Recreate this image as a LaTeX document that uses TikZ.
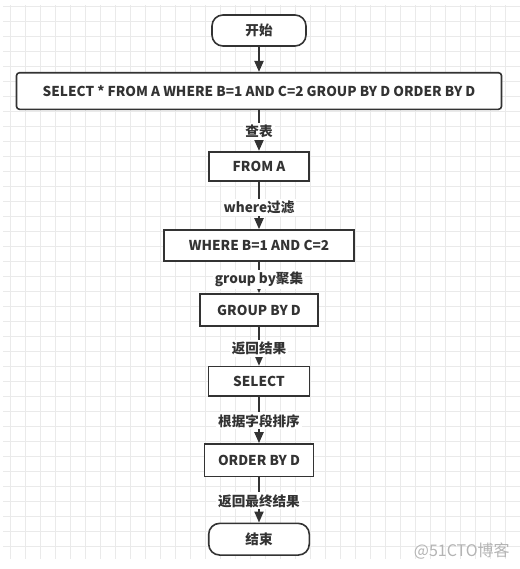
\documentclass[tikz,border=0pt]{standalone}
\usepackage{fontspec}
\setmainfont{Noto Sans CJK SC}
\usetikzlibrary{arrows.meta}
\newlength\pxu
\setlength\pxu{0.75pt}
\definecolor{linec}{HTML}{333333}
\definecolor{gridc}{HTML}{EAEAEA}
\definecolor{wmc}{HTML}{B4B4B4}
\tikzset{
  gridline/.style={draw=gridc, line width=0.75pt},
  box/.style={draw=linec, line width=1.2pt, fill=white, text=linec,
    font=\fontsize{10.2pt}{12pt}\selectfont\bfseries, inner sep=0pt, align=center},
  term/.style={box, rounded corners=8.25pt},
  arr/.style={draw=linec, line width=1.5pt, -{Triangle[width=6.75pt,length=8.25pt]}},
  lbl/.style={fill=white, text=linec, inner xsep=1.5pt, inner ysep=1.5pt,
    font=\fontsize{10.2pt}{12pt}\selectfont\bfseries},
  wm/.style={text=wmc, font=\fontsize{12pt}{14pt}\selectfont, inner sep=0pt}
}
\begin{document}
\begin{tikzpicture}[x=0.75pt, y=-0.75pt]
\useasboundingbox (0,0) rectangle (520,569);
\fill[white] (0,0) rectangle (520,569);
% grid
\foreach \gx in {10,25,...,505} { \draw[gridline] (\gx,5) -- (\gx,559); }
\foreach \gy in {6,21,...,546} { \draw[gridline] (3,\gy) -- (520,\gy); }
% nodes
\node[term, minimum width=94\pxu, minimum height=31\pxu] (start) at (259,30.5) {开始};
\node[box, rounded corners=2.25pt, minimum width=485\pxu, minimum height=36.6\pxu] (sql) at (259,91) {SELECT * FROM A WHERE B=1 AND C=2 GROUP BY D ORDER BY D};
\node[box, minimum width=100\pxu, minimum height=29\pxu] (from) at (259,166.2) {FROM A};
\node[box, minimum width=190\pxu, minimum height=31\pxu] (where) at (259,245.5) {WHERE B=1 AND C=2};
\node[box, minimum width=118\pxu, minimum height=32\pxu] (group) at (259,310) {GROUP BY D};
\node[box, minimum width=101\pxu, minimum height=29.3\pxu] (select) at (259,381.3) {SELECT};
\node[box, minimum width=109\pxu, minimum height=32.7\pxu] (order) at (259,460.3) {ORDER BY D};
\node[term, minimum width=100.6\pxu, minimum height=31.7\pxu] (end) at (259,539.2) {结束};
% edges
\draw[arr] (start) -- (sql);
\draw[arr] (sql) -- node[lbl, pos=0.53] {查表} (from);
\draw[arr] (from) -- node[lbl, pos=0.54] {where过滤} (where);
\draw[arr] (where) -- node[lbl, pos=0.55] {group by聚集} (group);
\draw[arr] (group) -- node[lbl, pos=0.55] {返回结果} (select);
\draw[arr] (select) -- node[lbl, pos=0.52] {根据字段排序} (order);
\draw[arr] (order) -- node[lbl, pos=0.52] {返回最终结果} (end);
% watermark
\node[wm, anchor=east] (wmark) at (510,551) {@51CTO博客};
\end{tikzpicture}
\end{document}
